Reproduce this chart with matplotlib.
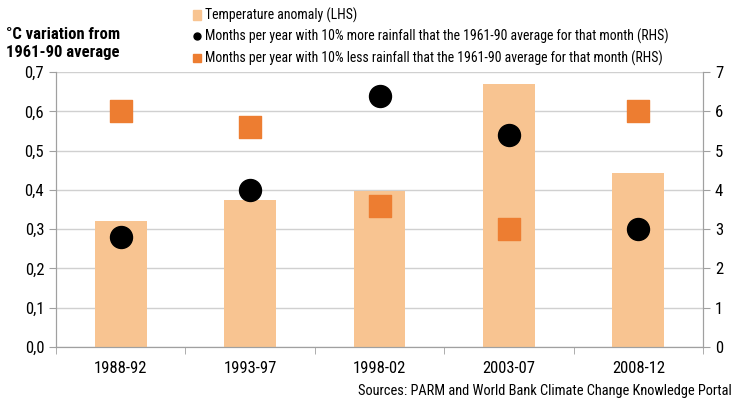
import matplotlib
matplotlib.use("Agg")
import matplotlib.pyplot as plt
from matplotlib.lines import Line2D
from matplotlib.patches import Patch
from matplotlib import font_manager

# pick a narrow font if one is installed, prefer one with a bold weight
fonts = font_manager.fontManager.ttflist
narrow_names = sorted({f.name for f in fonts if "Narrow" in f.name or "Condensed" in f.name})
preferred = ["Liberation Sans Narrow", "Arial Narrow", "Roboto Condensed", "Open Sans Condensed"]
narrow = None
for p in preferred:
    if p in narrow_names:
        narrow = p
        break
if narrow is None and narrow_names:
    narrow = narrow_names[0]

bold_family = None
if narrow:
    plt.rcParams['font.family'] = [narrow, 'DejaVu Sans']
    fs_scale = 1.0
    has_bold = any(f.name == narrow and (f.weight == 'bold' or (isinstance(f.weight, int) and f.weight >= 600))
                   for f in fonts)
    if has_bold:
        bold_family = [narrow, 'DejaVu Sans']
    else:
        # any other narrow family with bold
        for n in narrow_names:
            if "Bold" in n:
                bold_family = [n, 'DejaVu Sans']
                break
else:
    plt.rcParams['font.family'] = ['Liberation Sans', 'DejaVu Sans']
    fs_scale = 0.88
if bold_family is None:
    bold_family = ['Liberation Sans', 'DejaVu Sans']
    title_size = 10.5
else:
    title_size = 12

periods = ["1988-92", "1993-97", "1998-02", "2003-07", "2008-12"]
temp_anomaly = [0.32, 0.375, 0.397, 0.67, 0.443]
months_more_rain = [2.8, 4.0, 6.4, 5.4, 3.0]
months_less_rain = [6.0, 5.6, 3.6, 3.0, 6.0]

bar_color = "#F8C491"
sq_color = "#ED7D31"
grid_color = "#D0D0D0"
spine_color = "#A0A0A0"

fig = plt.figure(figsize=(7.35, 4.03), dpi=100)
ax = fig.add_axes([0.0762, 0.139, 0.8803, 0.682])
ax2 = ax.twinx()

x = list(range(len(periods)))
ax.bar(x, temp_anomaly, width=0.4, color=bar_color, zorder=2)
ax2.scatter(x, months_more_rain, s=250, marker='o', color='black', zorder=3)
ax2.scatter(x, months_less_rain, s=260, marker='s', color=sq_color, zorder=3)

ax.set_xlim(-0.5, 4.5)
ax.set_ylim(0, 0.7)
ax2.set_ylim(0, 7)
ax.set_yticks([i / 10 for i in range(8)])
ax.set_yticklabels([f"{i/10:.1f}".replace(".", ",") for i in range(8)])
ax2.set_yticks(range(8))

ax.set_xticks(x)
ax.set_xticklabels(periods)
ax.set_xticks([i - 0.5 for i in range(6)], minor=True)
ax.tick_params(axis='x', which='major', length=0, pad=10, labelsize=12 * fs_scale)
ax.tick_params(axis='x', which='minor', length=5, color=spine_color)
ax.tick_params(axis='y', length=5, color=spine_color, labelsize=12 * fs_scale)
ax2.tick_params(axis='y', length=5, color=spine_color, labelsize=12 * fs_scale)

ax.grid(axis='y', color=grid_color, linewidth=1, zorder=0)
ax.set_axisbelow(True)
for a in (ax, ax2):
    a.spines['top'].set_visible(False)
    for s in ('left', 'right', 'bottom'):
        a.spines[s].set_color(spine_color)

fig.text(0.086, 0.893, "°C variation from\n1961-90 average", ha='center', va='center',
         fontsize=title_size, fontweight='bold', family=bold_family, linespacing=1.25)

handles = [
    Patch(color=bar_color),
    Line2D([], [], marker='o', color='black', linestyle='none', markersize=5),
    Line2D([], [], marker='s', color=sq_color, linestyle='none', markersize=6),
]
labels = [
    "Temperature anomaly (LHS)",
    "Months per year with 10% more rainfall that the 1961-90 average for that month (RHS)",
    "Months per year with 10% less rainfall that the 1961-90 average for that month (RHS)",
]
fig.legend(handles, labels, loc='upper left', bbox_to_anchor=(0.252, 1.0), frameon=False,
           fontsize=9.9 * fs_scale, handlelength=0.6, handletextpad=0.3, labelspacing=0.45,
           borderaxespad=0.1, borderpad=0.45)

fig.text(0.996, 0.012, "Sources: PARM and World Bank Climate Change Knowledge Portal",
         ha='right', va='bottom', fontsize=10.4 * fs_scale)

fig.savefig("out.png", dpi=100)
